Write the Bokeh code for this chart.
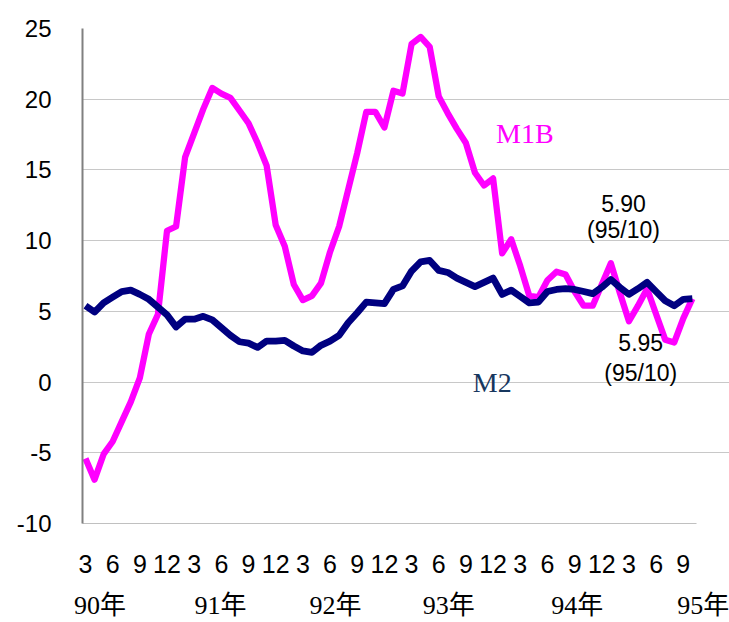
from bokeh.plotting import figure
from bokeh.models import ColumnDataSource, FixedTicker, Label, LinearAxis
from bokeh.embed import file_html
from bokeh.resources import INLINE

# Monthly growth rates (%), 90/3 .. 95/10
m1b = [-5.4, -6.9, -5.1, -4.2, -2.8, -1.4, 0.3, 3.4, 4.8, 10.7,
       11.0, 15.9, 17.6, 19.3, 20.8, 20.4, 20.1, 19.2, 18.3, 16.9,
       15.3, 11.1, 9.6, 6.9, 5.8, 6.1, 7.0, 9.2, 11.0, 13.6,
       16.2, 19.1, 19.1, 18.0, 20.6, 20.4, 23.9, 24.4, 23.7, 20.2,
       19.0, 17.9, 16.9, 14.8, 13.9, 14.4, 9.1, 10.1, 8.2, 6.1,
       6.0, 7.2, 7.8, 7.6, 6.4, 5.4, 5.4, 6.9, 8.4, 6.3,
       4.3, 5.4, 6.6, 4.8, 3.0, 2.8, 4.5, 5.9]
m2 = [5.4, 4.95, 5.6, 6.0, 6.4, 6.5, 6.2, 5.85, 5.3, 4.75,
      3.9, 4.45, 4.45, 4.65, 4.4, 3.85, 3.3, 2.85, 2.75, 2.45,
      2.9, 2.9, 2.95, 2.55, 2.2, 2.1, 2.6, 2.9, 3.3, 4.2,
      4.9, 5.65, 5.6, 5.55, 6.55, 6.8, 7.85, 8.5, 8.6, 7.9,
      7.75, 7.35, 7.05, 6.75, 7.05, 7.35, 6.2, 6.5, 6.05, 5.6,
      5.65, 6.4, 6.55, 6.6, 6.55, 6.4, 6.25, 6.7, 7.25, 6.7,
      6.2, 6.6, 7.05, 6.4, 5.75, 5.4, 5.85, 5.9]
month_idx = list(range(len(m1b)))

tick_labels = ["3", "6", "9", "12", "3", "6", "9", "12", "3", "6", "9", "12",
               "3", "6", "9", "12", "3", "6", "9", "12", "3", "6", "9"]
year_labels = ["90年", "91年", "92年", "93年", "94年", "95年"]
year_label_pos = [1.6, 14.9, 27.6, 40.1, 54.3, 68.2]

y_ticks = [-10, -5, 0, 5, 10, 15, 20, 25]
y_tick_labels = ["-10", "-5", "0", "5", "10", "15", "20", "25"]

x_lo, x_hi = -0.33, 67.48      # extent of the drawn chart area
src = ColumnDataSource(dict(x=month_idx, m1b=m1b, m2=m2))

p = figure(width=729, height=622, output_backend="svg", toolbar_location=None,
           x_range=(x_lo, 71.1), y_range=(-10, 25),
           min_border_left=82, min_border_right=0, min_border_top=28,
           min_border_bottom=97)
p.outline_line_color = None
p.background_fill_color = "white"
p.border_fill_color = "white"

p.line("x", "m1b", source=src, line_color="#FF00FF", line_width=6.3, line_join="round")
p.line("x", "m2", source=src, line_color="#000080", line_width=6.8, line_join="round")

tick_pos = [i * 3 for i in range(len(tick_labels))]
p.xaxis.ticker = FixedTicker(ticks=tick_pos)
p.xaxis.major_label_overrides = {t: lab for t, lab in zip(tick_pos, tick_labels)}
p.xaxis.bounds = (x_lo, x_hi)
p.xaxis.major_tick_line_color = None
p.xaxis.minor_tick_line_color = None
p.xaxis.major_tick_out = 0
p.xaxis.major_tick_in = 0
p.xaxis.axis_line_color = "#c0c0c0"
p.xaxis.axis_line_width = 1.2
p.xaxis.major_label_text_font = "Liberation Sans"
p.xaxis.major_label_text_font_size = "25px"
p.xaxis.major_label_text_color = "black"
p.xaxis.major_label_standoff = 31

year_axis = LinearAxis(ticker=FixedTicker(ticks=year_label_pos),
                       major_label_overrides={t: lab for t, lab in zip(year_label_pos, year_labels)},
                       axis_line_color=None, major_tick_line_color=None,
                       minor_tick_line_color=None, major_tick_out=0, major_tick_in=0,
                       major_label_standoff=15,
                       major_label_text_font="Liberation Serif, Noto Sans CJK TC",
                       major_label_text_font_size="26px",
                       major_label_text_color="black")
p.add_layout(year_axis, "below")

p.yaxis.ticker = FixedTicker(ticks=y_ticks)
p.yaxis.major_label_overrides = {t: lab for t, lab in zip(y_ticks, y_tick_labels)}
p.yaxis.major_tick_line_color = None
p.yaxis.minor_tick_line_color = None
p.yaxis.major_tick_out = 0
p.yaxis.major_tick_in = 0
p.yaxis.axis_line_color = "#808080"
p.yaxis.axis_line_width = 2
p.yaxis.major_label_text_font = "Liberation Sans"
p.yaxis.major_label_text_font_size = "24px"
p.yaxis.major_label_text_color = "black"
p.yaxis.major_label_standoff = 31

p.xgrid.grid_line_color = None
p.ygrid.grid_line_color = "#c8c8c8"
p.ygrid.grid_line_width = 1.2
p.ygrid.bounds = (x_lo, x_hi)

p.add_layout(Label(x=48.5, y=17.55, text="M1B", text_font="Liberation Serif",
                   text_font_size="28px", text_align="center",
                   text_baseline="middle", text_color="#FF00FF"))
p.add_layout(Label(x=44.9, y=-0.05, text="M2", text_font="Liberation Serif",
                   text_font_size="28px", text_align="center",
                   text_baseline="middle", text_color="#17375E"))

for txt, xx, yy in [("5.90", 59.4, 12.64), ("(95/10)", 59.4, 10.77),
                    ("5.95", 61.3, 2.82), ("(95/10)", 61.3, 0.67)]:
    p.add_layout(Label(x=xx, y=yy, text=txt, text_font="Liberation Sans",
                       text_font_size="23px", text_align="center",
                       text_baseline="middle", text_color="black"))

open("out.html", "w").write(file_html(p, INLINE))
